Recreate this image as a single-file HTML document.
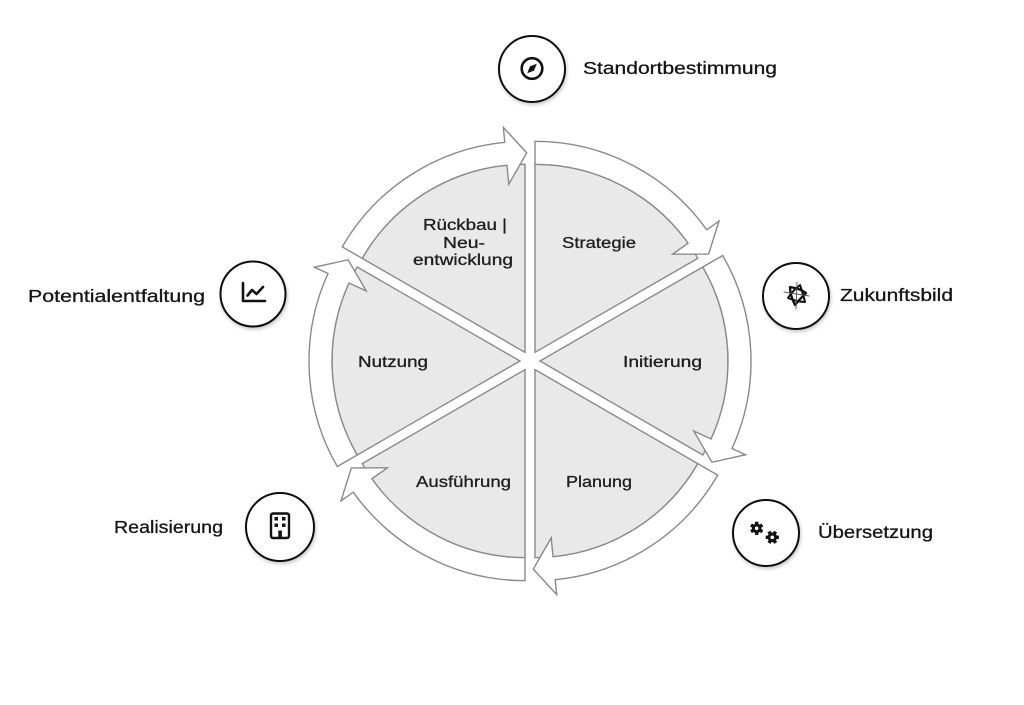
<!DOCTYPE html>
<html>
<head>
<meta charset="utf-8">
<style>
html,body{margin:0;padding:0;background:#fff;}
svg{display:block;}
.lbl{font-family:"Liberation Sans",Arial,sans-serif;font-size:15.5px;fill:#1e1e1e;stroke:#1e1e1e;stroke-width:0.3px;}
.out{font-family:"Liberation Sans",Arial,sans-serif;font-size:17.5px;fill:#151515;stroke:#151515;stroke-width:0.3px;}
</style>
</head>
<body>
<svg width="1024" height="705" viewBox="0 0 1024 705" xmlns="http://www.w3.org/2000/svg">
<defs>
  <g id="sec">
    <path d="M0,0 L0,-188 A188,188 0 0 1 162.81,-94 Z" fill="#e9e9e9" stroke="#8a8a8a" stroke-width="1.4" stroke-linejoin="miter"/>
    <path d="M0,-211 A211,211 0 0 1 171.78,-122.53 L183.99,-131.24 L173.64,-98.24 L137.59,-98.14 L153.05,-109.17 A188,188 0 0 0 0,-188 Z" fill="#ffffff" stroke="#8a8a8a" stroke-width="1.4" stroke-linejoin="miter"/>
  </g>
  <filter id="sh" x="-30%" y="-30%" width="160%" height="160%">
    <feDropShadow dx="1" dy="2" stdDeviation="1.8" flood-color="#000" flood-opacity="0.22"/>
  </filter>
</defs>

<rect width="1024" height="705" fill="#ffffff"/>

<!-- wheel -->
<g transform="translate(530,361)">
  <g transform="rotate(0) translate(5,-8.66)"><use href="#sec"/></g>
  <g transform="rotate(60) translate(5,-8.66)"><use href="#sec"/></g>
  <g transform="rotate(120) translate(5,-8.66)"><use href="#sec"/></g>
  <g transform="rotate(180) translate(5,-8.66)"><use href="#sec"/></g>
  <g transform="rotate(240) translate(5,-8.66)"><use href="#sec"/></g>
  <g transform="rotate(300) translate(5,-8.66)"><use href="#sec"/></g>
</g>

<!-- sector labels -->
<text class="lbl" x="423" y="230" textLength="84" lengthAdjust="spacingAndGlyphs">Rückbau |</text>
<text class="lbl" x="443" y="248" textLength="42" lengthAdjust="spacingAndGlyphs">Neu-</text>
<text class="lbl" x="413" y="265" textLength="100" lengthAdjust="spacingAndGlyphs">entwicklung</text>
<text class="lbl" x="562" y="248" textLength="74" lengthAdjust="spacingAndGlyphs">Strategie</text>
<text class="lbl" x="623" y="367" textLength="79" lengthAdjust="spacingAndGlyphs">Initierung</text>
<text class="lbl" x="358" y="367" textLength="70" lengthAdjust="spacingAndGlyphs">Nutzung</text>
<text class="lbl" x="416" y="487" textLength="95" lengthAdjust="spacingAndGlyphs">Ausführung</text>
<text class="lbl" x="566" y="487" textLength="66" lengthAdjust="spacingAndGlyphs">Planung</text>

<!-- outer circles -->
<g fill="#ffffff" stroke="#111" stroke-width="2" filter="url(#sh)">
  <circle cx="532" cy="69" r="33"/>
  <circle cx="796" cy="296" r="33"/>
  <circle cx="766" cy="533" r="33"/>
  <circle cx="253" cy="294" r="32.5"/>
  <circle cx="280" cy="527" r="34"/>
</g>

<!-- compass icon -->
<circle cx="532" cy="68.5" r="10.3" fill="none" stroke="#111" stroke-width="2.6"/>
<polygon points="536.8,63.7 534,70.6 527.2,73.3 530,66.4" fill="#111"/>

<!-- Zukunftsbild icon -->
<g fill="none" stroke="#111" stroke-linejoin="round" stroke-linecap="round">
  <path d="M790,287 C796,288 802,290 806,293 C802,297 798,301 795,305 C792,299 790,293 790,287 Z" stroke-width="2.3"/>
  <path d="M788,298 C791,293 795,289 800,285 C802,291 804,297 805,302 C799,302 793,300 788,298 Z" stroke-width="2"/>
  <path d="M784,292 L809,296" stroke-width="0.9" stroke="#555"/>
  <path d="M797,282 L796,309" stroke-width="0.9" stroke="#555"/>
</g>

<!-- gears icon -->
<g fill="#111">
  <g transform="translate(756.7,528.3)">
    <circle r="4.8"/>
    <rect x="-1.7" y="-6.6" width="3.4" height="13.2"/>
    <rect x="-1.7" y="-6.6" width="3.4" height="13.2" transform="rotate(60)"/>
    <rect x="-1.7" y="-6.6" width="3.4" height="13.2" transform="rotate(120)"/>
    <circle r="1.8" fill="#fff"/>
  </g>
  <g transform="translate(772.3,537.3)">
    <circle r="4.8"/>
    <rect x="-1.7" y="-6.6" width="3.4" height="13.2" transform="rotate(30)"/>
    <rect x="-1.7" y="-6.6" width="3.4" height="13.2" transform="rotate(90)"/>
    <rect x="-1.7" y="-6.6" width="3.4" height="13.2" transform="rotate(150)"/>
    <circle r="1.8" fill="#fff"/>
  </g>
</g>

<!-- chart icon -->
<g fill="none" stroke="#111" stroke-width="2.6" stroke-linecap="round" stroke-linejoin="round">
  <path d="M243,283 V301 H265"/>
  <path d="M247.5,295.5 L252,290 L256.5,294 L263,287"/>
</g>

<!-- building icon -->
<g>
  <rect x="271" y="513.5" width="18" height="24.5" rx="2" fill="none" stroke="#111" stroke-width="2.4"/>
  <rect x="274.5" y="517" width="3.5" height="3.5" fill="#111"/>
  <rect x="282" y="517" width="3.5" height="3.5" fill="#111"/>
  <rect x="274.5" y="523.5" width="3.5" height="3.5" fill="#111"/>
  <rect x="282" y="523.5" width="3.5" height="3.5" fill="#111"/>
  <rect x="278.3" y="530.5" width="3.6" height="7.5" fill="#111"/>
</g>

<!-- outer labels -->
<text class="out" x="583" y="74" textLength="194" lengthAdjust="spacingAndGlyphs">Standortbestimmung</text>
<text class="out" x="840" y="301" textLength="113" lengthAdjust="spacingAndGlyphs">Zukunftsbild</text>
<text class="out" x="818" y="538" textLength="115" lengthAdjust="spacingAndGlyphs">Übersetzung</text>
<text class="out" x="28" y="302" textLength="177" lengthAdjust="spacingAndGlyphs">Potentialentfaltung</text>
<text class="out" x="114" y="533" textLength="109" lengthAdjust="spacingAndGlyphs">Realisierung</text>
</svg>
</body>
</html>
